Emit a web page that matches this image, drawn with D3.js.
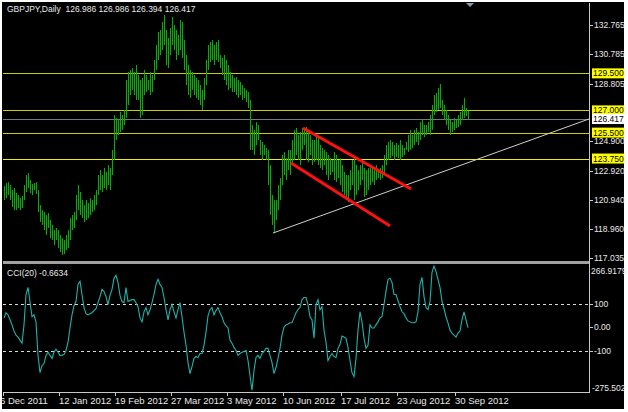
<!DOCTYPE html>
<html><head><meta charset="utf-8">
<script src="https://cdn.jsdelivr.net/npm/d3@7"></script>
<style>
html,body{margin:0;padding:0;background:#fff;}
svg{display:block;}
text{font-family:"Liberation Sans",Arial,sans-serif;}
</style></head>
<body>
<svg id="c" width="628" height="412"></svg>
<script>
// ---------- DATA ----------
const symbolTitle = "GBPJPY,Daily";
const quote = [126.986, 126.986, 126.394, 126.417];
const highs = [
121.89,122.10,122.16,121.96,121.62,121.76,121.42,121.29,121.08,121.22,
121.96,122.64,122.77,122.30,122.03,122.10,122.16,121.62,120.61,120.27,
120.14,119.94,120.07,119.60,119.26,118.92,119.06,118.92,118.59,118.38,
118.25,118.59,118.92,119.73,119.94,120.14,121.29,121.96,121.49,120.95,
120.61,120.95,120.74,121.08,120.95,121.29,121.62,122.64,122.97,122.64,
123.11,122.84,123.31,123.11,124.33,126.69,126.49,126.35,126.89,126.69,
127.03,129.05,129.59,129.73,129.86,129.59,130.06,129.39,129.05,129.19,
129.73,129.39,129.05,129.59,129.39,130.40,131.42,132.29,132.43,132.97,
133.44,132.43,131.89,132.56,133.30,132.77,132.43,132.09,133.10,132.97,
131.75,130.74,130.06,129.73,129.59,129.39,129.19,129.05,128.71,128.38,
129.19,130.40,131.42,131.62,131.75,131.42,131.62,131.75,130.74,130.54,
130.74,130.40,130.06,129.59,129.39,129.19,129.25,129.05,128.92,128.71,
128.51,128.38,128.24,127.70,126.01,125.68,126.21,126.01,125.00,124.87,
124.66,124.46,124.33,123.31,121.29,120.95,120.95,121.96,122.43,123.99,
124.19,123.78,124.33,124.33,125.00,125.68,125.81,125.34,125.54,125.81,
125.81,125.88,125.68,125.34,125.00,125.00,125.34,125.14,124.66,124.46,
124.33,124.19,123.99,123.78,123.65,124.19,123.99,123.65,123.78,123.31,
122.84,122.64,122.64,122.97,123.65,123.78,123.31,122.97,123.31,123.65,
123.11,122.97,123.11,123.31,123.11,122.97,123.31,122.97,123.11,123.31,
123.99,124.66,124.87,125.00,124.87,124.66,124.80,124.66,125.00,124.66,
124.46,124.87,125.34,125.68,125.34,125.68,125.81,125.54,126.21,126.35,
126.01,126.01,126.21,126.69,127.36,128.04,128.17,128.51,128.78,127.70,
127.36,127.03,126.69,126.35,126.21,126.49,126.35,126.69,126.89,127.36,
127.84,127.16,126.986];
const lows = [
120.95,121.08,121.29,120.95,120.48,120.27,120.27,120.41,120.27,120.41,
120.95,121.49,121.76,121.42,121.29,121.62,121.35,120.14,119.46,119.26,
118.92,118.59,119.06,118.38,118.25,117.91,118.25,117.71,117.44,117.24,
117.30,117.57,117.71,118.25,118.92,119.06,119.60,120.27,119.94,119.73,
119.46,119.60,119.73,119.94,120.14,120.27,120.61,121.29,121.62,121.49,
121.76,121.62,121.96,121.62,122.64,123.65,125.00,125.34,125.54,125.68,
126.01,126.49,127.36,128.04,128.38,128.04,127.70,127.70,126.49,126.69,
128.04,128.24,128.38,128.04,128.24,129.05,129.73,130.40,130.74,131.08,
131.42,130.06,129.86,130.74,131.42,131.08,130.40,130.74,131.08,130.54,
129.73,128.71,128.04,127.84,128.38,128.04,127.84,127.70,127.36,127.03,
127.70,128.71,129.73,130.27,130.40,130.06,130.40,130.27,129.86,129.39,
129.05,128.71,128.38,128.51,128.24,128.24,128.04,127.84,128.04,127.70,
127.84,127.57,127.16,124.33,124.33,123.99,124.66,125.00,123.99,123.65,
123.99,123.65,121.96,119.94,119.26,118.79,119.60,120.27,120.95,121.96,
122.64,122.30,122.97,122.64,123.31,123.65,123.99,123.65,123.31,124.33,
124.66,123.65,123.51,123.99,123.31,123.51,123.65,123.31,123.11,122.97,
123.31,122.64,122.30,122.64,122.84,122.30,122.16,122.43,121.96,121.49,
121.29,120.95,120.81,121.62,121.96,120.95,121.29,121.62,121.96,122.30,
121.15,121.29,121.62,121.96,122.16,121.96,122.30,122.43,122.30,122.43,
122.64,123.31,123.65,123.78,123.92,123.65,123.85,123.78,123.65,123.85,
123.99,124.33,124.19,124.33,124.46,124.66,124.87,124.66,125.00,125.34,
125.20,125.34,125.54,125.34,125.68,126.69,126.89,127.03,127.16,126.69,
126.35,126.01,125.68,125.34,125.54,125.68,125.81,125.88,126.01,126.35,
126.49,126.62,126.394];
const cciValues = [
41,63,54,33,11,-15,-33,-41,-54,-67,
11,141,171,111,46,54,24,-119,-193,-163,
-154,-119,-106,-119,-132,-106,-93,-106,-119,-119,
-115,-98,-63,-2,54,93,111,184,197,141,
85,59,54,59,63,72,80,106,132,163,
154,132,98,137,163,210,223,193,137,111,
106,171,111,115,119,119,106,89,41,24,
67,85,54,76,106,141,184,206,184,171,
128,76,33,76,98,67,41,76,106,46,
-20,-76,-150,-197,-167,-132,-124,-128,-111,-111,
-76,-20,50,76,85,54,72,85,63,46,
20,7,-2,-54,-67,-85,-98,-119,-111,-106,
-102,-98,-141,-206,-268,-184,-128,-119,-132,-111,
-102,-89,-89,-119,-150,-197,-171,-132,-89,-33,
2,11,15,20,20,41,63,76,85,119,
128,128,98,46,33,-46,98,119,76,89,
-11,-63,-141,-124,-111,-124,-128,-89,-72,-37,
-41,-46,-85,-141,-193,-210,-132,-11,67,24,
-46,-89,-76,11,-2,-2,11,24,41,46,
98,154,206,210,193,141,141,115,89,67,
59,41,28,24,20,20,24,67,184,214,
132,85,76,111,236,262,240,206,171,111,
80,46,20,-11,-24,-33,-41,-24,-15,33,
67,33,-0.6634];
const priceTicks = [132.765,130.785,128.805,124.900,122.920,120.940,118.960,117.035];
const levelLines = [129.500,127.000,125.500,123.750];
const bidPrice = 126.417;
const cciTicks = [100, 0, -100];
const cciTickLabels = ["100","0.00","-100"];
const cciRange = [-275.502, 266.9179];
const cciLevels = [100, -100];
const cciName = "CCI(20)";
const dateTickIdx = [0,28,56,84,112,140,169,197,226];
const dateLabels = ["6 Dec 2011","12 Jan 2012","19 Feb 2012","27 Mar 2012","3 May 2012","10 Jun 2012","17 Jul 2012","23 Aug 2012","30 Sep 2012"];
// drawn objects in (bar index, price)
const channelUpper = [[149.5,125.81],[203.5,121.69]];
const channelLower = [[143.5,123.45],[193,119.19]];
const supportLine = [[134.5,118.72],[292.5,126.42]];

// ---------- LAYOUT ----------
const left=3, right=589;
const mainTop=3, mainBot=261;
const cciTop=265, cciBot=392;
const N = highs.length;
const fg = "#e8e8e8";

const svg = d3.select("#c");
svg.append("rect").attr("x",2).attr("y",2).attr("width",622).attr("height",407).attr("fill","#000");

const x = d3.scaleLinear().domain([0, N-1]).range([4, 468]);
const y = d3.scaleLinear().domain([117.035, 132.765]).range([258, 25]);
const yc = d3.scaleLinear().domain(cciRange).range([cciBot, cciTop]);

const px = v => Math.round(v)+0.5;

svg.append("clipPath").attr("id","mclip").append("rect")
  .attr("x",left).attr("y",mainTop).attr("width",right-left).attr("height",mainBot-mainTop);
svg.append("clipPath").attr("id","cclip").append("rect")
  .attr("x",left).attr("y",cciTop).attr("width",right-left).attr("height",cciBot-cciTop);

const gm = svg.append("g").attr("clip-path","url(#mclip)");

// level lines
gm.selectAll("line.lvl").data(levelLines).join("line")
  .attr("x1",left).attr("x2",right)
  .attr("y1",d=>px(y(d))).attr("y2",d=>px(y(d)))
  .attr("stroke",(d,i)=> i===3 ? "#eeee00" : "#cccc00").attr("stroke-width",1.2);
// bid line
gm.append("line").attr("x1",left).attr("x2",right)
  .attr("y1",px(y(bidPrice))).attr("y2",px(y(bidPrice)))
  .attr("stroke","#6f7c8a").attr("stroke-width",1);

// bars
gm.selectAll("line.bar").data(d3.range(N)).join("line")
  .attr("x1",i=>px(x(i))).attr("x2",i=>px(x(i)))
  .attr("y1",i=>y(highs[i])).attr("y2",i=>y(lows[i]))
  .attr("stroke","#0ea80e").attr("stroke-width",1.1);

// support trend line
gm.append("line")
  .attr("x1",x(supportLine[0][0])).attr("y1",y(supportLine[0][1]))
  .attr("x2",x(supportLine[1][0])).attr("y2",y(supportLine[1][1]))
  .attr("stroke","#d0d0d0").attr("stroke-width",1);
// channel
[channelUpper, channelLower].forEach(c=>{
  gm.append("line")
    .attr("x1",x(c[0][0])).attr("y1",y(c[0][1]))
    .attr("x2",x(c[1][0])).attr("y2",y(c[1][1]))
    .attr("stroke","#ff1010").attr("stroke-width",3);
});

// shift marker triangle
svg.append("path").attr("d","M466,3 L474,3 L470,7 Z").attr("fill","#8a9aae");

// title
svg.append("text").attr("x",7).attr("y",12).attr("fill",fg).attr("font-size",8.5)
  .attr("xml:space","preserve")
  .text(symbolTitle+"  "+quote.map(d=>d.toFixed(3)).join(" "));

// separator
svg.append("rect").attr("x",left).attr("y",261).attr("width",right-left).attr("height",3).attr("fill","#a0a0a0");

// CCI panel
const gc = svg.append("g").attr("clip-path","url(#cclip)");
gc.selectAll("line.lv").data(cciLevels).join("line")
  .attr("x1",left).attr("x2",right)
  .attr("y1",d=>px(yc(d))).attr("y2",d=>px(yc(d)))
  .attr("stroke","#d8d8d8").attr("stroke-dasharray","3,3");
gc.append("path").datum(cciValues)
  .attr("d", d3.line().x((d,i)=>x(i)).y(d=>yc(d)))
  .attr("fill","none").attr("stroke","#20b2aa").attr("stroke-width",1.1);
svg.append("text").attr("x",7).attr("y",276).attr("fill",fg).attr("font-size",8.5)
  .text(cciName+" "+cciValues[N-1].toFixed(4));

// axes frame
svg.append("line").attr("x1",right+0.5).attr("x2",right+0.5).attr("y1",mainTop).attr("y2",cciBot+1)
  .attr("stroke","#c8c8c8");
svg.append("line").attr("x1",left).attr("x2",right+1).attr("y1",cciBot+0.5).attr("y2",cciBot+0.5)
  .attr("stroke","#c8c8c8");

// price axis
const ax = svg.append("g");
ax.selectAll("line.pt").data(priceTicks).join("line")
  .attr("x1",right).attr("x2",right+4).attr("y1",d=>px(y(d))).attr("y2",d=>px(y(d)))
  .attr("stroke","#c8c8c8");
ax.selectAll("text.pt").data(priceTicks).join("text")
  .attr("x",right+5).attr("y",d=>y(d)).attr("dy","0.35em")
  .attr("fill",fg).attr("font-size",8.5).text(d=>d.toFixed(3));
// highlighted labels
const hl = ax.selectAll("g.hl").data(levelLines).join("g");
hl.append("rect").attr("x",right+3).attr("y",d=>y(d)-5).attr("width",32).attr("height",10).attr("fill","#ffff00");
hl.append("text").attr("x",right+4).attr("y",d=>y(d)).attr("dy","0.35em").attr("fill","#000").attr("font-size",8.5)
  .text(d=>d.toFixed(3));
ax.append("rect").attr("x",right+3).attr("y",y(bidPrice)-5).attr("width",32).attr("height",10).attr("fill","#ffffff");
ax.append("text").attr("x",right+4).attr("y",y(bidPrice)).attr("dy","0.35em").attr("fill","#000").attr("font-size",8.5)
  .text(bidPrice.toFixed(3));

// cci axis
ax.selectAll("line.ct").data(cciTicks).join("line")
  .attr("x1",right).attr("x2",right+4).attr("y1",d=>px(yc(d))).attr("y2",d=>px(yc(d)))
  .attr("stroke","#c8c8c8");
ax.selectAll("text.ct").data(cciTicks).join("text")
  .attr("x",right+5).attr("y",d=>yc(d)).attr("dy","0.35em")
  .attr("fill",fg).attr("font-size",8.5).text((d,i)=>cciTickLabels[i]);
ax.append("text").attr("x",right+2).attr("y",271).attr("dy","0.35em").attr("fill",fg).attr("font-size",8.5)
  .text(cciRange[1].toFixed(4));
ax.append("text").attr("x",right+3).attr("y",388).attr("dy","0.35em").attr("fill",fg).attr("font-size",8.5)
  .text(cciRange[0].toFixed(3));

// date axis
ax.selectAll("line.dt").data(dateTickIdx).join("line")
  .attr("x1",i=>px(x(i))-1).attr("x2",i=>px(x(i))-1).attr("y1",cciBot).attr("y2",cciBot+4)
  .attr("stroke","#c8c8c8");
ax.selectAll("text.dt").data(dateTickIdx).join("text")
  .attr("x",(i,k)=> k===0 ? 0 : x(i)-1).attr("y",404)
  .attr("fill",fg).attr("font-size",9.5).text((d,k)=>dateLabels[k]);
</script>
</body></html>
